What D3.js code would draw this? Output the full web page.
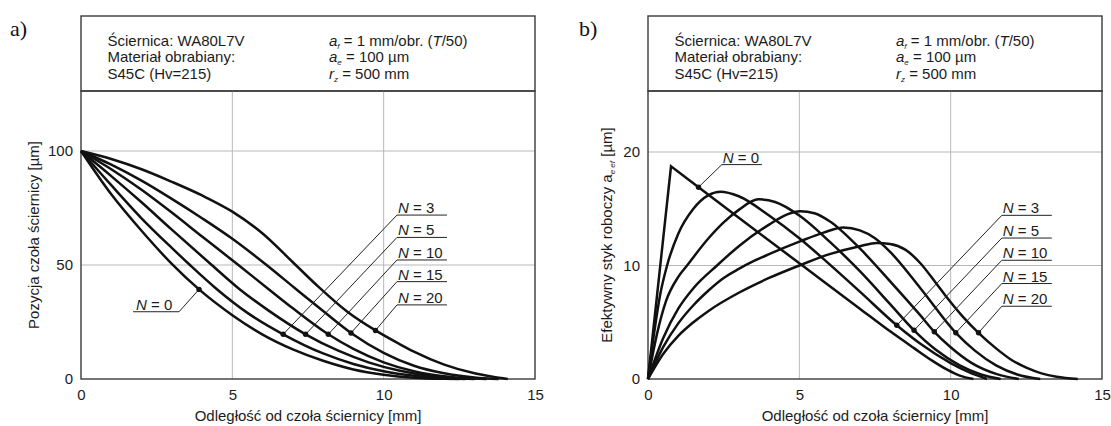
<!DOCTYPE html>
<html><head><meta charset="utf-8">
<script src="https://cdn.jsdelivr.net/npm/d3@7"></script>
<style>
body{margin:0;background:#fff}
svg{display:block}
text{font-family:"Liberation Sans",Arial,sans-serif;fill:#1c1c1c}
</style>
</head><body><svg id="c" width="1111" height="426"></svg>
<script>
// ---------- data ----------
const xTicks = [0, 5, 10, 15];
const yTicksA = [0, 50, 100];
const yTicksB = [0, 10, 20];
const seriesN = ["0", "3", "5", "10", "15", "20"];

// panel a: Pozycja czoła ściernicy [µm] vs odległość [mm]
const posN0  = [[0,100],[1,81],[2,65],[3,50.5],[3.9,39.3],[5,28],[6,19.5],[7,13],[8,8],[9,4.2],[10,1.9],[11,0.6],[12,0.1],[12.5,0]];
const posN3  = [[0,100],[1,85],[2,70.5],[3,57.5],[3.6,50],[4.48,39.5],[5.5,29],[6.68,19.6],[8,11.2],[9,6.6],[10,3.4],[11,1.4],[12,0.3],[12.7,0]];
const posN5  = [[0,100],[1,89],[2,77.5],[3,65.5],[4.32,50],[5.23,39.5],[6.2,30],[7.42,19.6],[8.5,12.4],[9.5,7.3],[10.5,3.7],[11.5,1.4],[12.3,0.4],[13,0]];
const posN10 = [[0,100],[1,92],[2,83],[3,73],[4,62.5],[5.2,50],[6.19,39.5],[7,31],[8.17,19.6],[9,13.2],[10,7.3],[11,3.4],[12,1.2],[12.8,0.3],[13.4,0]];
const posN15 = [[0,100],[1,94],[2,87],[3,79],[4,70.5],[5,61.5],[6.13,50],[7.07,39.8],[8,29.8],[8.92,20.2],[10,11.5],[11,5.8],[12,2.5],[13,0.7],[13.8,0]];
const posN20 = [[0,100],[1,96.5],[2,92],[3,86.5],[4,80.5],[5,73.4],[6,63.8],[7,51.2],[7.84,40.5],[8.8,29.5],[9.73,21.3],[10.5,15.5],[11,12],[12,6.3],[13,2.5],[13.6,1],[14.1,0]];

// panel b: Efektywny styk roboczy a_e,ef [µm]
const effN0  = [[0,0],[0.76,18.74],[1.67,16.9],[3,14.2],[5.2,9.8],[7,6.2],[8,4.2],[8.8,2.7],[9.4,1.6],[9.9,0.8],[10.3,0.3],[10.75,0]];
const effN3  = [[0,0],[0.2,4],[0.4,7.4],[0.63,10],[1,12.8],[1.5,15],[2,16.2],[2.39,16.5],[3,16.1],[4,14.4],[5,12.4],[6,10.1],[7,7.7],[8.22,4.73],[9,3.1],[10,1.4],[10.6,0.6],[11.2,0]];
const effN5  = [[0,0],[0.3,4],[0.6,6.9],[1,9.0],[1.29,10],[2,12.4],[2.5,13.8],[3,14.9],[3.65,15.83],[4.2,15.6],[5,14.4],[6,12.1],[7,9.5],[8,6.6],[8.79,4.29],[9.5,2.6],[10.3,1.2],[11,0.4],[11.65,0]];
const effN10 = [[0,0],[0.5,3.6],[1,6.2],[1.5,8.0],[2.28,10],[3,11.7],[4,13.6],[4.6,14.5],[5.03,14.78],[5.5,14.6],[6,13.9],[7,11.5],[8,8.6],[9,5.6],[9.46,4.16],[10,2.8],[10.7,1.4],[11.5,0.45],[12.25,0]];
const effN15 = [[0,0],[0.5,2.8],[1,4.9],[1.5,6.5],[2,7.8],[2.5,8.9],[3,9.7],[3.5,10.4],[4,11],[5,12.1],[5.8,12.9],[6.46,13.34],[7,13.1],[7.5,12.4],[8,11.2],[9,8.0],[10.17,4.07],[10.8,2.5],[11.5,1.2],[12.2,0.4],[12.96,0]];
const effN20 = [[0,0],[0.5,2.2],[1,3.8],[1.5,5.0],[2,6.0],[3,7.6],[4,8.9],[5,10],[6,11],[7,11.7],[7.56,11.98],[8,11.9],[8.5,11.4],[9,10.2],[9.5,8.5],[9.87,7.2],[10.4,5.5],[10.92,4.07],[11.5,2.7],[12,1.7],[12.5,1.0],[13,0.5],[13.5,0.2],[14.2,0]];

// label markers (x on each curve) and label anchors (data units)
const markXA = [3.9, 6.68, 7.42, 8.17, 8.92, 9.73];
const markXB = [1.67, 8.22, 8.79, 9.46, 10.17, 10.92];
const labXA = [1.72, 10.44, 10.44, 10.44, 10.44, 10.44];
const labYA = [29.5, 71.9, 62.1, 52.2, 42.7, 32.5];
const labXB = [2.44, 11.69, 11.69, 11.69, 11.69, 11.69];
const labYB = [18.89, 14.42, 12.42, 10.46, 8.41, 6.41];

// ---------- drawing ----------
const svg = d3.select("#c");
const panels = [
  {tag:"a)", tagX:10, left:81, right:535, yTop:100, yTopPx:151, yTicks:yTicksA,
   series:[posN0,posN3,posN5,posN10,posN15,posN20], markX:markXA, labX:labXA, labY:labYA,
   n0w:46, n0right:true, sharpN0:false, titleX:39,
   ytitle:[{t:"Pozycja czoła ściernicy [µm]"}]},
  {tag:"b)", tagX:579, left:648, right:1102, yTop:20, yTopPx:152, yTicks:yTicksB,
   series:[effN0,effN3,effN5,effN10,effN15,effN20], markX:markXB, labX:labXB, labY:labYB,
   n0w:40, n0right:false, sharpN0:true, titleX:612,
   ytitle:[{t:"Efektywny styk roboczy a"},{t:"e ef",sub:true},{t:" [µm]"}]}
];
const TOP = 91, BOTTOM = 379, HEAD = 16;
const frameCol = "#3a3a3a", gridCol = "#b8b8b8";

function interp(s, x){
  const i = d3.bisector(d=>d[0]).left(s, x);
  if (i <= 0) return s[0][1];
  if (i >= s.length) return s[s.length-1][1];
  const a = s[i-1], b = s[i];
  return a[1] + (b[1]-a[1])*(x-a[0])/(b[0]-a[0]);
}

panels.forEach(p => {
  const g = svg.append("g");
  const x = d3.scaleLinear().domain([0,15]).range([p.left, p.right]);
  const y = d3.scaleLinear().domain([0,p.yTop]).range([BOTTOM, p.yTopPx]);

  svg.append("text").attr("x", p.tagX).attr("y", 36)
    .style("font-family", "'Liberation Serif','Times New Roman',serif")
    .style("font-size", "22px").style("fill","#111").text(p.tag);

  g.append("rect").attr("x", p.left).attr("y", HEAD).attr("width", p.right-p.left).attr("height", TOP-HEAD)
    .attr("fill","none").attr("stroke",frameCol).attr("stroke-width",1.4);
  const lx = p.left + 26.5, rx = p.left + 248, bl = [45.5, 62.3, 79.1];
  const hs = "15px";
  ["Ściernica: WA80L7V","Materiał obrabiany:","S45C (Hv=215)"].forEach((t,i)=>{
    g.append("text").attr("x",lx).attr("y",bl[i]).style("font-size",hs).text(t);
  });
  const rightLines = [
    [{t:"a",i:true},{t:"f",i:true,sub:true},{t:" = 1 mm/obr. ("},{t:"T",i:true},{t:"/50)"}],
    [{t:"a",i:true},{t:"e",i:true,sub:true},{t:" = 100 µm"}],
    [{t:"r",i:true},{t:"z",i:true,sub:true},{t:" = 500 mm"}]
  ];
  rightLines.forEach((parts,i)=>{
    const t = g.append("text").attr("x",rx).attr("y",bl[i]).style("font-size",hs);
    let shifted = false;
    parts.forEach(pt=>{
      const ts = t.append("tspan").text(pt.t);
      if (pt.i) ts.style("font-style","italic");
      if (pt.sub){ ts.attr("dy",3).style("font-size","8px"); shifted = true; }
      else if (shifted){ ts.attr("dy",-3); shifted = false; }
    });
  });

  g.append("g").selectAll("line").data(xTicks.filter(d=>d>0 && d<15)).join("line")
    .attr("x1",d=>x(d)).attr("x2",d=>x(d)).attr("y1",TOP).attr("y2",BOTTOM)
    .attr("stroke",gridCol).attr("stroke-width",1);
  g.append("g").selectAll("line").data(p.yTicks.filter(d=>d>0)).join("line")
    .attr("x1",p.left).attr("x2",p.right).attr("y1",d=>y(d)).attr("y2",d=>y(d))
    .attr("stroke",gridCol).attr("stroke-width",1);

  g.append("rect").attr("x",p.left).attr("y",TOP).attr("width",p.right-p.left).attr("height",BOTTOM-TOP)
    .attr("fill","none").attr("stroke",frameCol).attr("stroke-width",1.4);

  const ax = g.append("g").attr("transform",`translate(0,${BOTTOM})`)
    .call(d3.axisBottom(x).tickValues(xTicks).tickSize(0).tickPadding(10));
  const ay = g.append("g").attr("transform",`translate(${p.left},0)`)
    .call(d3.axisLeft(y).tickValues(p.yTicks).tickSize(0).tickPadding(8));
  [ax,ay].forEach(a=>{
    a.select(".domain").remove();
    a.selectAll("text").style("font-size","15px").style("font-family","'Liberation Sans',Arial,sans-serif").attr("fill","#1c1c1c");
  });

  g.append("text").attr("x",(p.left+p.right)/2).attr("y",421).attr("text-anchor","middle")
    .style("font-size","15px").text("Odległość od czoła ściernicy [mm]");
  const yt = g.append("text").attr("transform",`translate(${p.titleX},${(TOP+BOTTOM)/2}) rotate(-90)`)
    .attr("text-anchor","middle").style("font-size","15px");
  let sh=false;
  p.ytitle.forEach(pt=>{
    const ts = yt.append("tspan").text(pt.t);
    if (pt.sub){ ts.attr("dy",3).style("font-size","8px").style("font-style","italic"); sh=true; }
    else if (sh){ ts.attr("dy",-3); sh=false; }
  });

  const lineSmooth = d3.line().x(d=>x(d[0])).y(d=>y(d[1])).curve(d3.curveMonotoneX);
  const lineSharp = d3.line().x(d=>x(d[0])).y(d=>y(d[1])).curve(d3.curveLinear);
  p.series.forEach((s,i)=>{
    let dpath;
    if (i===0 && p.sharpN0){
      dpath = lineSharp(s.slice(0,3)) + lineSmooth(s.slice(2)).replace(/^M/,"L");
    } else dpath = lineSmooth(s);
    g.append("path").attr("d",dpath).attr("fill","none")
      .attr("stroke","#111").attr("stroke-width",2.5).attr("stroke-linejoin","miter");
  });

  p.series.forEach((s,i)=>{
    const mx = x(p.markX[i]), my = y(interp(s,p.markX[i]));
    const ux = x(p.labX[i]), uy = y(p.labY[i]);
    const w = i===0 ? p.n0w : 50;
    const ax2 = (i===0 && p.n0right) ? ux + w : ux;
    g.append("line").attr("x1",ux).attr("x2",ux+w).attr("y1",uy).attr("y2",uy)
      .attr("stroke","#222").attr("stroke-width",1);
    g.append("line").attr("x1",ax2).attr("y1",uy).attr("x2",mx).attr("y2",my)
      .attr("stroke","#222").attr("stroke-width",1);
    g.append("circle").attr("cx",mx).attr("cy",my).attr("r",2.7).attr("fill","#111");
    const t = g.append("text").attr("x",ux+ (i===0 && p.n0right ? 3 : 1)).attr("y",uy-2).style("font-size","15px");
    t.append("tspan").style("font-style","italic").text("N");
    t.append("tspan").text(" = " + seriesN[i]);
  });
});
</script></body></html>
